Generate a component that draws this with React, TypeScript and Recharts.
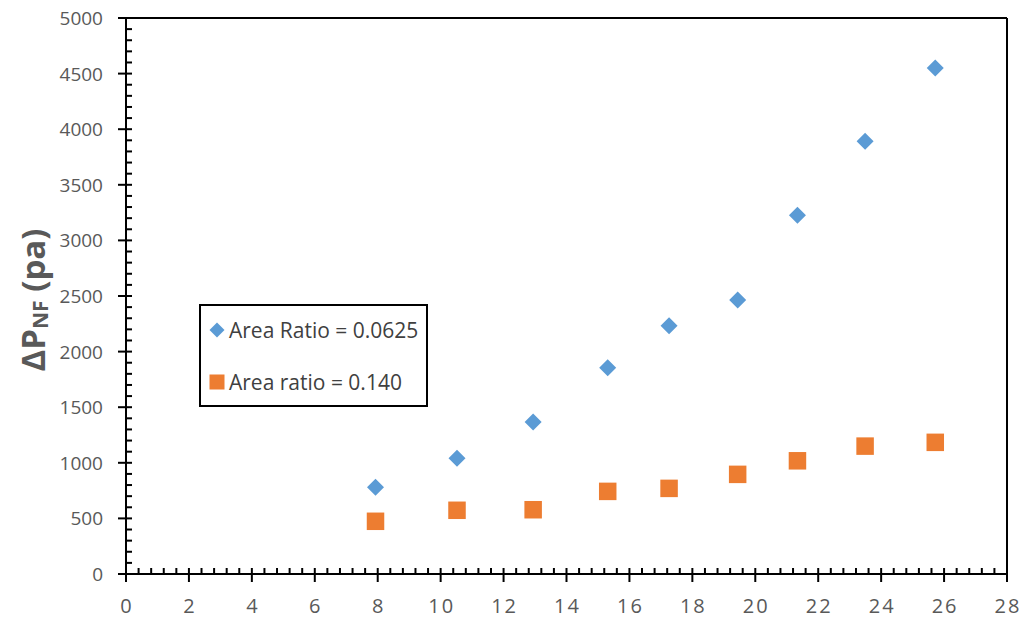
import { ScatterChart, Scatter, XAxis, YAxis, ReferenceLine } from "recharts";

const velocity = [7.93, 10.52, 12.94, 15.31, 17.26, 19.44, 21.34, 23.49, 25.72];
const dpRatio0625 = [780, 1040, 1366, 1855, 2232, 2463, 3227, 3892, 4551];
const dpRatio140 = [474, 573, 578, 743, 770, 896, 1018, 1150, 1184];

const xMajorTicks = [0, 2, 4, 6, 8, 10, 12, 14, 16, 18, 20, 22, 24, 26, 28];
const yMajorTicks = [0, 500, 1000, 1500, 2000, 2500, 3000, 3500, 4000, 4500, 5000];

const BLUE = "#5B9BD5";
const ORANGE = "#ED7D31";
const FONT = "'Open Sans', sans-serif";
const TICK_COLOR = "#595959";

const seriesA = velocity.map((x, i) => ({ x, y: dpRatio0625[i] }));
const seriesB = velocity.map((x, i) => ({ x, y: dpRatio140[i] }));

// 5 minor divisions per major step
function withMinors(majors: number[]) {
  const out: number[] = [];
  for (let i = 0; i < majors.length - 1; i++) {
    const step = (majors[i + 1] - majors[i]) / 5;
    for (let k = 0; k < 5; k++) out.push(+(majors[i] + k * step).toFixed(4));
  }
  out.push(majors[majors.length - 1]);
  return out;
}

const isMajor = (v: number, majors: number[]) => majors.some((m) => Math.abs(m - v) < 1e-6);

function XTick(props: any) {
  const { x, y, payload } = props;
  const major = isMajor(payload.value, xMajorTicks);
  return (
    <g>
      <line x1={x} x2={x} y1={y - 6} y2={major ? y + 8 : y} stroke="#000" strokeWidth={2} />
      {major && (
        <text x={x + 1} y={y + 39} textAnchor="middle" fill={TICK_COLOR} fontSize={20} fontFamily={FONT} letterSpacing={2}>
          {payload.value}
        </text>
      )}
    </g>
  );
}

function YTick(props: any) {
  const { x, y, payload } = props;
  const major = isMajor(payload.value, yMajorTicks);
  return (
    <g>
      <line x1={major ? x - 8 : x} x2={x + 6} y1={y} y2={y} stroke="#000" strokeWidth={2} />
      {major && (
        <text x={x - 23} y={y + 7} textAnchor="end" fill={TICK_COLOR} fontSize={19} fontFamily={FONT}>
          {payload.value}
        </text>
      )}
    </g>
  );
}

function Diamond({ cx, cy, r = 8.5, fill }: any) {
  return <polygon points={`${cx},${cy - r} ${cx + r},${cy} ${cx},${cy + r} ${cx - r},${cy}`} fill={fill} />;
}

function Square({ cx, cy, s = 17.5, fill }: any) {
  return <rect x={cx - s / 2} y={cy - s / 2} width={s} height={s} fill={fill} />;
}

function YLabel() {
  return (
    <text
      transform="rotate(-90, 32, 300)"
      x={32}
      y={300}
      textAnchor="middle"
      dominantBaseline="central"
      fill={TICK_COLOR}
      fontFamily={FONT}
      fontWeight={700}
      fontSize={33}
    >
      ΔP
      <tspan fontSize={21} dy={8}>NF</tspan>
      <tspan dy={-8}> (pa)</tspan>
    </text>
  );
}

function LegendBox() {
  const item = { display: "flex", alignItems: "center", height: 28 } as const;
  const label = { fontFamily: FONT, fontSize: 21, color: "#404040", marginLeft: 4, whiteSpace: "nowrap" } as const;
  return (
    <div
      style={{
        position: "absolute",
        left: 199,
        top: 304,
        boxSizing: "border-box",
        width: 229,
        height: 103,
        border: "2px solid #000",
        background: "#fff",
        padding: "10px 0 0 8px",
      }}
    >
      <div style={item}>
        <svg width={16} height={16}>
          <Diamond cx={8} cy={8} r={7.5} fill={BLUE} />
        </svg>
        <span style={label}>Area Ratio = 0.0625</span>
      </div>
      <div style={{ ...item, marginTop: 24 }}>
        <svg width={16} height={16}>
          <Square cx={8} cy={8} s={15} fill={ORANGE} />
        </svg>
        <span style={label}>Area ratio = 0.140</span>
      </div>
    </div>
  );
}

export default function App() {
  return (
    <div style={{ position: "relative", width: 1025, height: 620, background: "#fff" }}>
      <style>{"body{margin:0}"}</style>
      <ScatterChart width={1025} height={620} margin={{ top: 18, right: 18, bottom: 0, left: 0 }}>
        <XAxis
          type="number"
          dataKey="x"
          domain={[0, 28]}
          ticks={withMinors(xMajorTicks)}
          interval={0}
          height={46}
          tickSize={0}
          tickMargin={0}
          tick={<XTick />}
          axisLine={{ stroke: "#000", strokeWidth: 2 }}
          allowDataOverflow
        />
        <YAxis
          type="number"
          dataKey="y"
          domain={[0, 5000]}
          ticks={withMinors(yMajorTicks)}
          interval={0}
          width={126}
          tickSize={0}
          tickMargin={0}
          tick={<YTick />}
          axisLine={{ stroke: "#000", strokeWidth: 2 }}
          label={{ content: () => <YLabel /> }}
          allowDataOverflow
        />
        <ReferenceLine x={28} stroke="#000" strokeWidth={2} />
        <ReferenceLine y={5000} stroke="#000" strokeWidth={2} />
        <Scatter
          name="Area Ratio = 0.0625"
          data={seriesA}
          fill={BLUE}
          shape={(p: any) => <Diamond cx={p.cx} cy={p.cy} fill={BLUE} />}
          isAnimationActive={false}
        />
        <Scatter
          name="Area ratio = 0.140"
          data={seriesB}
          fill={ORANGE}
          shape={(p: any) => <Square cx={p.cx} cy={p.cy} fill={ORANGE} />}
          isAnimationActive={false}
        />
      </ScatterChart>
      <LegendBox />
    </div>
  );
}
